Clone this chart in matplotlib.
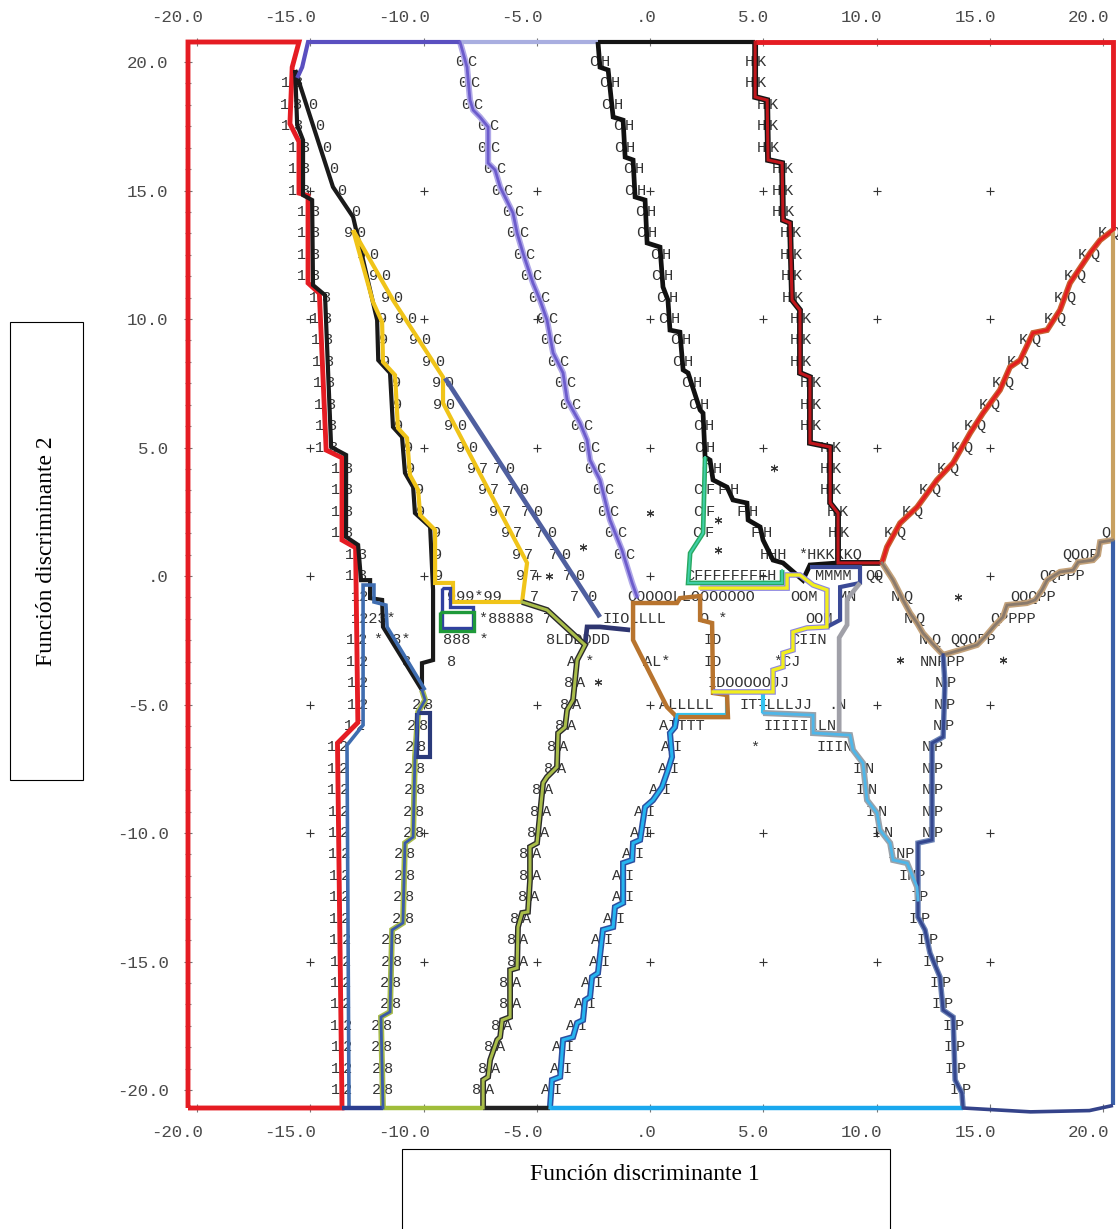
import matplotlib
matplotlib.use("Agg")
import matplotlib.pyplot as plt
import matplotlib.transforms as mtransforms
import numpy as np
from matplotlib.patches import Rectangle

MONO = "Liberation Mono"
SERIF = "Liberation Serif"

# axis ticks
x_ticks = [-20, -15, -10, -5, 0, 5, 10, 15, 20]
x_ticklabels = ["-20.0", "-15.0", "-10.0", "-5.0", ".0", "5.0", "10.0", "15.0", "20.0"]
y_ticks = [20, 15, 10, 5, 0, -5, -10, -15, -20]
y_ticklabels = ["20.0", "15.0", "10.0", "5.0", ".0", "-5.0", "-10.0", "-15.0", "-20.0"]

# territorial map boundaries (function 1, function 2)
b1 = [(-15.8, 19.8), (-15.9, 17.6), (-15.5, 16.9), (-15.5, 14.9), (-15.1, 14.8), (-15.1, 11.4),
      (-14.6, 11.0), (-14.3, 4.9), (-13.6, 4.6), (-13.6, 1.4), (-13.0, 1.1), (-12.9, -5.7),
      (-13.8, -6.5), (-13.6, -20.7)]
b3_left = [(-15.67, 19.69), (-15.58, 17.55), (-15.32, 16.96), (-15.32, 14.82), (-14.92, 14.63),
           (-14.88, 11.32), (-14.35, 10.93), (-14.08, 5.02), (-13.42, 4.71), (-13.42, 1.52),
           (-12.89, 1.21), (-12.76, -0.16), (-12.36, -0.16), (-12.36, -0.86), (-11.83, -0.93),
           (-11.79, -1.98), (-10.07, -4.44)]
b3_right = [(-10.07, -4.44), (-10.07, -3.39), (-9.58, -3.27), (-9.58, -0.54), (-9.71, 1.91),
            (-10.38, 2.45), (-10.46, 3.46), (-10.82, 4.01), (-10.95, 5.41), (-11.35, 5.8),
            (-11.48, 7.9), (-12.0, 8.4), (-12.05, 9.96), (-12.3, 10.9), (-13.11, 13.97),
            (-14.0, 15.14), (-15.67, 19.69)]
nine = [(-13.11, 13.46), (-11.35, 10.74), (-9.14, 7.74), (-9.14, 6.73), (-7.06, 3.23), (-5.43, 0.51),
        (-5.65, -1.01), (-8.7, -1.01), (-8.7, -0.27), (-9.49, -0.27), (-9.49, 1.79), (-10.15, 2.37),
        (-10.24, 3.35), (-10.6, 3.93), (-10.73, 5.37), (-11.13, 5.76), (-11.26, 7.82), (-11.79, 8.33),
        (-11.83, 9.88), (-12.23, 10.66), (-13.11, 13.46)]
seven_zero = [(-9.05, 7.7), (-2.21, -1.6)]
junction = [(-2.87, -2.68), (-2.78, -1.98), (-2.21, -1.98), (-0.88, -2.1)]
eight_a = [(-7.37, -20.7), (-7.37, -19.61), (-7.15, -19.49), (-7.06, -18.83), (-6.75, -18.05),
           (-6.62, -17.94), (-6.53, -17.28), (-6.18, -17.16), (-6.18, -15.33), (-5.87, -15.25),
           (-5.83, -13.66), (-5.65, -13.11), (-5.39, -13.07), (-5.3, -11.83), (-5.3, -10.54),
           (-4.99, -10.39), (-4.72, -8.05), (-4.55, -7.82), (-4.11, -7.43), (-4.06, -6.11),
           (-3.75, -5.88), (-3.66, -5.21), (-3.4, -4.82), (-3.22, -3.27), (-2.87, -2.68),
           (-4.55, -1.32), (-5.65, -1.01)]
two_eight = [(-11.79, -20.7), (-11.88, -17.16), (-11.48, -16.96), (-11.39, -13.77), (-10.91, -13.5),
             (-10.82, -10.39), (-10.46, -10.16), (-10.38, -7.04), (-10.24, -5.29), (-9.93, -4.82),
             (-10.07, -4.44)]
two_outline = [(-13.29, -20.7), (-13.38, -6.58), (-12.67, -5.8), (-12.67, -0.35), (-12.19, -0.35),
               (-12.19, -1.01), (-11.66, -1.13), (-11.61, -1.98), (-9.93, -4.44)]
zero_c = [(-8.39, 20.78), (-8.08, 19.8), (-7.95, 18.52), (-7.81, 18.13), (-7.51, 17.86), (-7.15, 17.47),
          (-7.15, 16.07), (-6.84, 15.8), (-6.62, 15.14), (-6.05, 14.12), (-5.87, 13.35), (-5.61, 12.57),
          (-5.17, 11.4), (-4.86, 10.74), (-4.55, 9.96), (-4.28, 8.68), (-3.84, 7.9), (-3.66, 6.85),
          (-3.09, 5.95), (-2.78, 5.29), (-2.65, 4.51), (-2.21, 3.74), (-1.77, 2.18), (-1.24, 1.01),
          (-0.79, -0.27), (-0.57, -0.82)]
c_h = [(-2.3, 20.78), (-2.21, 19.8), (-1.85, 19.69), (-1.63, 17.86), (-1.19, 17.74), (-1.1, 16.3),
       (-0.75, 16.19), (-0.66, 14.75), (-0.22, 14.63), (-0.13, 12.96), (0.44, 12.8), (0.57, 11.25),
       (0.79, 10.74), (0.88, 9.57), (1.32, 9.49), (1.46, 8.02), (1.68, 7.9), (2.21, 6.46),
       (2.34, 6.34), (2.43, 4.63), (2.65, 4.51), (2.78, 3.74), (3.4, 3.46), (3.66, 2.96), (4.28, 2.84),
       (4.33, 2.18), (4.86, 1.91), (4.99, 1.4), (5.43, 0.62), (5.87, 0.51), (6.75, -0.16),
       (7.06, 0.43), (8.3, 0.51)]
c_f = [(2.43, 4.63), (2.34, 1.67), (1.77, 0.89), (1.68, -0.27), (5.83, -0.27), (5.83, 0.23)]
h_k = [(4.64, 20.78), (4.64, 18.64), (5.17, 18.52), (5.21, 16.19), (5.83, 16.07), (5.87, 13.85),
       (6.18, 13.74), (6.27, 10.74), (6.62, 10.35), (6.62, 7.9), (7.06, 7.74), (7.06, 5.18),
       (7.95, 5.02), (7.95, 2.84), (8.3, 2.45), (8.3, 0.51), (10.24, 0.51)]
k_q = [(20.44, 13.46), (19.87, 13.07), (19.43, 12.57), (18.54, 11.4), (18.1, 10.35), (17.53, 9.57),
       (16.91, 9.46), (16.34, 8.4), (15.89, 8.13), (15.45, 7.24), (14.7, 6.34), (14.13, 5.56),
       (13.38, 4.4), (12.67, 3.74), (11.79, 2.68), (11.04, 2.06), (10.46, 1.13), (10.24, 0.51)]
q_p = [(20.44, 1.4), (19.87, 1.32), (19.78, 0.82), (19.56, 0.62), (18.9, 0.54), (18.68, 0.23),
       (18.1, 0.16), (17.53, -0.16), (17.31, -0.54), (17.0, -0.93), (16.64, -1.05), (15.76, -1.13),
       (15.58, -1.6), (15.23, -1.91), (14.79, -2.37), (14.44, -2.68), (13.69, -2.88), (12.94, -3.07)]
n_q = [(10.24, 0.51), (10.73, -0.16), (11.17, -0.93), (11.48, -1.44), (11.79, -1.83), (12.05, -2.22),
       (12.45, -2.61), (12.94, -3.07)]
n_p = [(12.94, -3.07), (13.02, -4.16), (12.94, -6.26), (12.45, -6.5), (12.45, -10.27), (11.83, -10.39),
       (11.83, -12.61), (11.83, -13.27), (12.14, -13.77), (12.36, -14.67), (12.8, -15.6),
       (12.94, -16.89), (13.38, -17.16), (13.47, -19.61), (13.77, -20.12), (13.82, -20.7)]
i_top = [(1.19, -5.41), (3.4, -5.41), (3.4, -4.51), (4.99, -4.51), (4.99, -5.33)]
i_n = [(4.99, -5.33), (7.2, -5.41), (7.2, -6.11), (8.83, -6.19), (8.96, -6.77), (9.4, -7.28),
       (9.58, -8.72), (10.02, -9.22), (10.15, -9.88), (10.6, -10.39), (10.73, -11.05), (11.35, -11.17),
       (11.79, -12.1), (11.83, -12.61)]
a_i = [(-4.42, -20.7), (-4.33, -19.61), (-3.97, -19.49), (-3.84, -18.05), (-3.4, -17.94), (-3.22, -17.39),
       (-2.96, -17.28), (-2.87, -16.5), (-2.65, -16.38), (-2.56, -15.6), (-2.3, -15.45), (-2.08, -13.77),
       (-1.63, -13.66), (-1.55, -12.88), (-1.19, -12.72), (-1.19, -11.17), (-0.79, -11.05),
       (-0.75, -10.39), (-0.44, -10.27), (-0.22, -8.99), (0.13, -8.72), (0.53, -8.21), (0.79, -7.55),
       (0.97, -7.04), (0.88, -6.11), (1.1, -5.88), (1.19, -5.41)]
l_outline = [(-0.57, -1.05), (1.19, -1.05), (1.32, -0.86), (2.21, -0.78), (2.21, -1.71), (2.74, -1.83),
             (2.78, -4.55), (3.4, -4.63), (3.44, -5.49), (1.19, -5.49), (0.75, -5.1), (-0.75, -2.49),
             (-0.75, -1.05), (-0.57, -1.05)]
j_outline = [(2.21, -0.47), (6.05, -0.47), (6.05, 0.04), (6.62, 0.04), (7.2, -0.35), (7.81, -0.54),
             (7.81, -1.98), (6.93, -2.02), (6.31, -2.18), (6.31, -2.88), (5.87, -3.0), (5.87, -3.54),
             (5.43, -3.66), (5.43, -4.51), (2.78, -4.51)]
m_box = [(7.06, 0.35), (9.27, 0.35), (9.27, -0.27), (8.39, -0.43), (8.39, -1.71), (7.81, -1.98)]
j_n = [(9.27, -0.27), (8.7, -0.9), (8.7, -1.9), (8.35, -2.4), (8.35, -6.19)]
box_a = [(-9.18, -0.47), (-9.18, -2.02), (-7.81, -2.02), (-7.81, -1.21), (-8.83, -1.21), (-8.83, -0.47),
         (-9.18, -0.47)]
box_b = [(-9.27, -1.4), (-9.27, -2.14), (-7.77, -2.14), (-7.77, -1.4), (-9.27, -1.4)]
box_c = [(-10.29, -5.33), (-9.71, -5.33), (-9.71, -7.04), (-10.29, -7.04), (-10.29, -5.33)]

# frame pieces that belong to the border regions
top_purple = [(-15.58, 19.38), (-15.36, 19.8), (-15.1, 20.78), (-8.39, 20.78)]
top_lavender = [(-8.39, 20.78), (-2.3, 20.78)]
top_black = [(-2.3, 20.78), (4.64, 20.78)]
top_red = [(4.64, 20.78), (20.44, 20.78), (20.44, 13.46)]
right_tan = [(20.44, 13.46), (20.44, 1.4)]
right_blue = [(20.44, 1.4), (20.44, -20.6)]
bottom_navy = [(-13.6, -20.7), (-11.79, -20.7)]
bottom_olive = [(-11.79, -20.7), (-7.37, -20.7)]
bottom_black = [(-7.37, -20.7), (-4.42, -20.7)]
bottom_cyan = [(-4.42, -20.7), (13.82, -20.7)]
bottom_navy2 = [(13.82, -20.7), (16.8, -20.85), (19.4, -20.8), (20.44, -20.6)]

# group symbols written beside each boundary: path, left symbol, right symbol, rows from..to
label_specs = [
    (b1, "1", "3", 19.9, -0.2), (b1, "1", "2", -2.2, -20.1),
    (b3_right, "", "0", 18.4, 13.6), (b3_right, "", "9", 10.0, -0.3),
    (nine[:5], "9", "0", 13.4, 5.0), (nine[3:6], "9", "7", 4.3, 0.0),
    (seven_zero, "7", "0", 4.3, 0.0), (zero_c, "0", "C", 20.1, 0.1),
    (c_h[:-2], "C", "H", 20.1, 4.1), (c_h[:-2], "F", "H", 3.4, 1.0),
    (c_f[:3], "C", "F", 3.4, 1.0), (h_k[:-1], "H", "K", 20.1, 1.0),
    (k_q, "K", "Q", 13.4, 0.9), (n_q, "N", "Q", -0.5, -3.0),
    (n_p, "N", "P", -4.0, -10.5), (n_p, "I", "P", -12.7, -20.1),
    (i_n, "I", "N", -7.4, -10.5), (a_i, "A", "I", -6.0, -20.1),
    (eight_a[:-2], "8", "A", -3.5, -20.1), (two_eight, "2", "8", -4.6, -20.1),
]

# remaining map text in the crowded centre (left edge x, row y)
misc_text = [
    ("HHH", 4.86, 0.83), ("*HKKKKQ", 6.53, 0.83), ("CFFFFFFFFH", 1.55, 0.0), ("MMMM", 7.28, 0.0),
    ("QQ", 9.5, 0.0), ("12", -13.2, -0.83), ("999*99", -8.96, -0.83), ("7", -5.3, -0.83),
    ("7 0", -3.53, -0.83), ("OOOOOLLOOOOOOO", -1.02, -0.83), ("OOM", 6.18, -0.83), ("MN", 8.3, -0.83),
    ("1223*", -13.2, -1.67), ("*88888 7", -7.55, -1.67), ("IIOLLLL", -2.08, -1.67),
    ("O *", 2.21, -1.67), ("OOM", 6.84, -1.67), ("* 3*", -12.2, -2.5), ("888 *", -9.14, -2.5),
    ("8LDDDDD", -4.6, -2.5), ("ID", 2.34, -2.5), ("CIIN", 6.2, -2.5), ("3", -11.0, -3.33),
    ("8", -8.96, -3.33), ("A *", -3.66, -3.33), ("AL*", -0.31, -3.33), ("ID", 2.34, -3.33),
    ("*CJ", 5.43, -3.33), ("IDOOOOOJJ", 2.52, -4.17), ("ALLLLL", 0.4, -5.0),
    ("ITTLLLJJ", 3.97, -5.0), (".N", 7.86, -5.0), ("AITTT", 0.4, -5.83), ("IIIIILLN", 5.03, -5.83),
    ("*", 4.4, -6.67), ("IIIN", 7.33, -6.67), ("Q", 19.9, 1.67), ("QQQP", 18.2, 0.83),
    ("QQPPP", 17.2, 0.0), ("QQQPP", 15.9, -0.83), ("QPPPP", 15.0, -1.67), ("QQQPP", 13.25, -2.5),
    ("NNPPP", 11.9, -3.33), ("INP", 10.5, -10.83), ("INP", 10.95, -11.67), ("IP", 11.5, -12.5),
]
centroids = [(-4.46, 0.0), (-2.96, 1.13), (0.0, 2.45), (-2.3, -4.12), (3.0, 2.18), (3.0, 1.01),
             (5.47, 4.2), (13.6, -0.82), (11.04, -3.27), (15.58, -3.27)]
grid_vals = [-15, -10, -5, 0, 5, 10, 15]
rows = 20 - np.arange(49) * 40 / 48

fig = plt.figure(figsize=(11.18, 12.29), dpi=100)
ax = fig.add_axes([188 / 1118, 121 / 1229, 925 / 1118, 1066 / 1229])
ax.set_xlim(-20.4, 20.44)
ax.set_ylim(-20.7, 20.78)
for s in ax.spines.values():
    s.set_visible(False)

tc = "#4a4a4a"
ax.set_xticks(x_ticks)
ax.set_xticklabels(x_ticklabels, fontfamily=MONO, fontsize=12.5, color=tc)
ax.set_yticks(y_ticks)
ax.set_yticklabels(y_ticklabels, fontfamily=MONO, fontsize=12.5, color=tc)
ax.tick_params(axis="x", top=True, labeltop=True, bottom=True, labelbottom=True,
               direction="inout", length=6, width=0.8, color="#777", pad=9)
ax.tick_params(axis="y", left=True, right=False, direction="inout", length=6, width=0.8,
               color="#777", pad=11)
ax.set_yticks(rows, minor=True)
ax.tick_params(axis="y", which="minor", length=5, width=0.8, direction="inout", color="#888")

# the x tick texts sit just left of their tick, as in the SPSS output
shift = mtransforms.ScaledTranslation(6 / 100, 0, fig.dpi_scale_trans)
for t in ax.xaxis.get_major_ticks():
    for lab in (t.label1, t.label2):
        lab.set_horizontalalignment("right")
        lab.set_transform(lab.get_transform() + shift)


def draw(pts, outer, inner=None, lw=3.6, lw_in=1.8):
    xs, ys = zip(*pts)
    ax.plot(xs, ys, color=outer, lw=lw, solid_joinstyle="miter", solid_capstyle="butt",
            clip_on=False, zorder=3)
    if inner:
        ax.plot(xs, ys, color=inner, lw=lw_in, solid_joinstyle="miter", clip_on=False, zorder=4)


# group symbols along boundaries
for path, left, right, y0, y1 in label_specs:
    px = np.array([p[0] for p in path])
    py = np.array([p[1] for p in path])
    order = np.argsort(py, kind="stable")
    for r in rows:
        if y1 <= r <= y0:
            xb = np.interp(r, py[order], px[order])
            if left:
                ax.text(xb - 0.27, r, left, ha="center", va="center", fontfamily=MONO,
                        fontsize=11, color="#333", zorder=2)
            if right:
                ax.text(xb + 0.27, r, right, ha="center", va="center", fontfamily=MONO,
                        fontsize=11, color="#333", zorder=2)

for s, x, y in misc_text:
    ax.text(x, y, s, ha="left", va="center", fontfamily=MONO, fontsize=11, color="#333", zorder=2)

gx, gy = np.meshgrid(grid_vals, grid_vals)
ax.scatter(gx.ravel(), gy.ravel(), marker="+", s=30, color="#333", linewidths=0.8, zorder=2)
cx, cy = zip(*centroids)
ax.scatter(cx, cy, marker=(6, 2, 0), s=22, color="#333", linewidths=0.8, zorder=2)

# region outlines
draw([(-20.4, -20.7), (-20.4, 20.78), (-15.5, 20.78)] + b1 + [(-20.4, -20.7)], "#e51c23", lw=3.5)
draw(b3_left + b3_right[1:], "#1a1a1a", lw=3.0)
draw(nine, "#f0c419", lw=3.0)
draw(seven_zero, "#4f5f9f", lw=3.4)
draw(junction, "#2e3570", lw=3.4)
draw(eight_a, "#2a2a2a", "#a9bd4a", lw=4.2, lw_in=2.2)
draw(two_eight, "#a9bd4a", "#3a5aa8", lw=4.2, lw_in=2.0)
draw(two_outline, "#3f6db0", lw=2.6)
draw(zero_c, "#b0a8e8", "#6c5ccc", lw=4.4, lw_in=2.0)
draw(top_purple, "#5a4fc0", lw=3.0)
draw(top_lavender, "#a9aee0", lw=3.0)
draw(top_black, "#151515", lw=3.0)
draw(c_h, "#111111", lw=3.4)
draw(c_f, "#28a860", "#3fd0a8", lw=3.4, lw_in=1.4)
draw(h_k, "#151515", "#c0161c", lw=4.2, lw_in=2.2)
draw(top_red, "#e51c23", lw=3.5)
draw(k_q, "#c86030", "#e41e1e", lw=4.2, lw_in=2.2)
draw(right_tan, "#c8a060", lw=3.0)
draw(q_p, "#c4a27a", "#8a7a6c", lw=4.4, lw_in=2.0)
draw(n_q, "#c4a27a", "#8a7a6c", lw=4.4, lw_in=2.0)
draw(n_p, "#6f86b8", "#34478f", lw=4.0, lw_in=2.2)
draw(i_top, "#33c3f0", lw=3.0)
draw(i_n, "#9aa2aa", "#4fb6e8", lw=4.4, lw_in=2.0)
draw(a_i, "#2c4fa0", "#25b5f0", lw=4.4, lw_in=2.2)
draw(l_outline, "#b8742e", lw=3.2)
draw(j_outline, "#8c85e0", "#f2ee1e", lw=4.0, lw_in=2.4)
draw(m_box, "#3b4a96", lw=3.0)
draw(j_n, "#a0a0a8", lw=3.4)
draw(box_a, "#3040a0", lw=2.4)
draw(box_b, "#1f9a3a", lw=2.4)
draw(box_c, "#2a3a7a", lw=3.0)
draw(right_blue, "#3a5fa8", lw=3.0)
draw(bottom_navy, "#2b3d8f", lw=3.2)
draw(bottom_olive, "#a0bd3a", lw=3.2)
draw(bottom_black, "#222222", lw=3.2)
draw(bottom_cyan, "#1aa8ee", lw=3.2)
draw(bottom_navy2, "#34438a", lw=2.6)

# axis titles in boxes
fig.patches.append(Rectangle((10 / 1118, 449 / 1229), 73 / 1118, 458 / 1229, transform=fig.transFigure,
                             fill=False, edgecolor="black", linewidth=0.8))
fig.text(47 / 1118, 678 / 1229, "Función discriminante 2", rotation=90, ha="center", va="center",
         fontfamily=SERIF, fontsize=17)
fig.patches.append(Rectangle((402 / 1118, -0.01), 488 / 1118, 80 / 1229 + 0.01, transform=fig.transFigure,
                             fill=False, edgecolor="black", linewidth=0.8, clip_on=False))
fig.text(645 / 1118, 54 / 1229, "Función discriminante 1", ha="center", va="center",
         fontfamily=SERIF, fontsize=17)

fig.savefig("out.png", dpi=100)
